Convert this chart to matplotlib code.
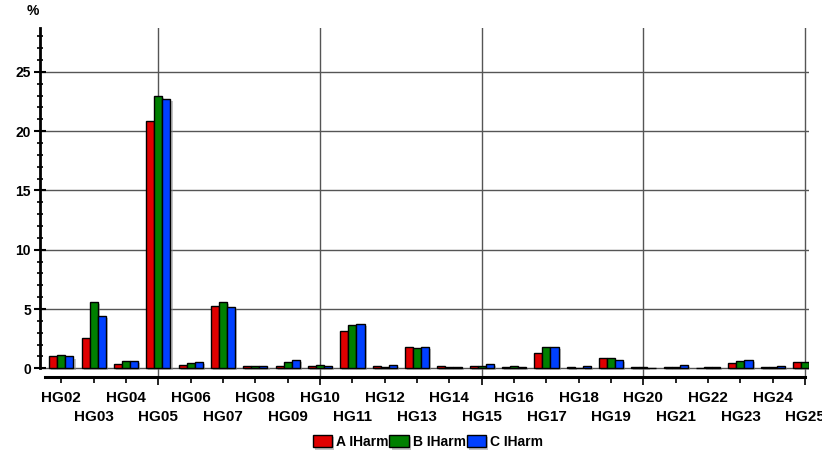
import numpy as np
import matplotlib
matplotlib.use("Agg")
import matplotlib.pyplot as plt
import matplotlib.patheffects as pe
from matplotlib.ticker import MultipleLocator, FixedLocator

plt.rcParams["font.family"] = ["Liberation Sans", "DejaVu Sans"]
plt.rcParams["font.weight"] = "bold"

# ── Harmonic data (% of fundamental) ─────────────────────────────────────────
orders = list(range(2, 26))
labels = [f"HG{n:02d}" for n in orders]

a_iharm = [1.05, 2.55, 0.35, 20.85, 0.25, 5.25, 0.22, 0.22, 0.19, 3.15, 0.19, 1.82,
           0.19, 0.22, 0.10, 1.26, 0.08, 0.84, 0.10, 0.08, 0.03, 0.42, 0.08, 0.50]
b_iharm = [1.15, 5.57, 0.59, 22.98, 0.45, 5.57, 0.19, 0.50, 0.30, 3.63, 0.08, 1.74,
           0.08, 0.16, 0.19, 1.77, 0.05, 0.84, 0.08, 0.08, 0.10, 0.62, 0.08, 0.50]
c_iharm = [1.00, 4.41, 0.59, 22.70, 0.50, 5.15, 0.17, 0.70, 0.19, 3.74, 0.25, 1.77,
           0.10, 0.36, 0.10, 1.77, 0.19, 0.67, 0.03, 0.25, 0.10, 0.70, 0.19, 0.42]

series = [("A IHarm", a_iharm, "#e00000"),
          ("B IHarm", b_iharm, "#008000"),
          ("C IHarm", c_iharm, "#0040ff")]

# ── Figure ───────────────────────────────────────────────────────────────────
W, H = 822, 453
fig = plt.figure(figsize=(W / 100, H / 100), dpi=100)
ax = fig.add_axes([40 / W, 1 - 377 / H, (809 - 40) / W, (377 - 28) / H])

x = np.array(orders, dtype=float)
width = 0.25
shadow = [pe.SimplePatchShadow(offset=(1.5, -1.5), shadow_rgbFace="#888888", alpha=0.5),
          pe.Normal()]
handles = []
for i, (name, vals, col) in enumerate(series):
    bars = ax.bar(x + (i - 1) * width, vals, width=width, color=col,
                  edgecolor="black", linewidth=1.0, label=name, zorder=3)
    for b in bars:
        b.set_path_effects(shadow)
    handles.append(bars)

ax.set_xlim(1.34, 25.12)
ax.set_ylim(-0.73, 28.7)

# grid: horizontal every 5 %, vertical every 5th harmonic
for yv in range(0, 30, 5):
    ax.axhline(yv, color="#555555", lw=1.0, zorder=1)
for xv in range(5, 26, 5):
    ax.axvline(xv, color="#555555", lw=1.0, zorder=1)

for s in ["top", "right"]:
    ax.spines[s].set_visible(False)
ax.spines["left"].set_linewidth(2)
ax.spines["left"].set_bounds(0, 28.7)
ax.spines["bottom"].set_linewidth(2.2)
ax.spines["bottom"].set_bounds(1.5, 25)

ax.yaxis.set_major_locator(MultipleLocator(5))
ax.yaxis.set_minor_locator(MultipleLocator(1))
ax.tick_params(axis="y", which="major", direction="inout", length=9, width=1.5,
               labelsize=10, pad=2)
ax.tick_params(axis="y", which="minor", direction="inout", length=4, width=1.2)

# x ticks: short one per harmonic, longer at every 5th
ax.xaxis.set_major_locator(FixedLocator([5, 10, 15, 20, 25]))
ax.xaxis.set_minor_locator(FixedLocator([n for n in orders if n % 5]))
ax.set_xticklabels([])
ax.tick_params(axis="x", which="major", direction="out", length=6, width=1.2)
ax.tick_params(axis="x", which="minor", direction="out", length=4, width=1.2)
for n, lab in zip(orders, labels):
    row = 0 if n % 2 == 0 else 1
    ax.annotate(lab, xy=(n, 0), xycoords=("data", "axes fraction"),
                xytext=(0, -15 - row * 14), textcoords="offset points",
                ha="center", va="center", fontsize=11, fontweight="bold",
                annotation_clip=False)
for t in ax.get_yticklabels():
    t.set_fontweight("bold")

fig.text(33 / W, 1 - 11 / H, "%", fontsize=10, fontweight="bold",
         ha="center", va="center")

fig.legend(handles=handles, labels=[s[0] for s in series],
           loc="center", bbox_to_anchor=(428 / W, 1 - 442 / H), ncol=3,
           frameon=False, handlelength=1.4, handleheight=1.0,
           handletextpad=0.3, columnspacing=0.05, borderpad=0,
           prop={"weight": "bold", "size": 10})

fig.savefig("out.png", dpi=100)
